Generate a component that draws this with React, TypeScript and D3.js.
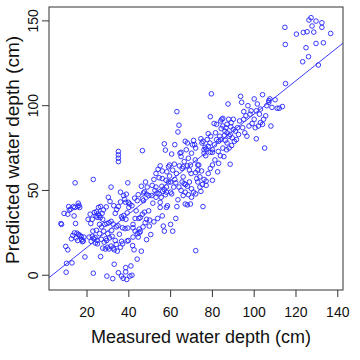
import React, { useEffect, useRef } from "react";
import * as d3 from "d3";

// [measured, predicted] pairs, grouped by measured depth (cm)
const depth5to20: [number, number][] = [
  [7.5, 30.5], [7.8, 30], [9, 36.5], [10.8, 36], [11.2, 40.5], [12.2, 39], [14.2, 40], [15.5, 40.5],
  [15.8, 42.5], [16.2, 41.2], [16.5, 40], [14.3, 54.5], [13.8, 35], [14.5, 30.5], [13.2, 23.5], [14, 25],
  [15.2, 24.8], [14.8, 22], [15.5, 20.5], [16.5, 23.5], [17.5, 21], [17.8, 19.8], [17.2, 22.8], [18.2, 20.2],
  [9.8, 17], [10.8, 15], [12.8, 7.3], [10.2, 7], [10, 1.8], [19, 10.8], [12.5, 21.5], [16, 24],
  [11.5, 38.5], [18.5, 22.5], [13.5, 40.5],
];
const depth20to30: [number, number][] = [
  [23, 56.5], [22.5, 33], [23.5, 37], [24.3, 35], [24.8, 34.2], [25.3, 36.2], [25.8, 35.2], [24.5, 37.5],
  [26.5, 40.5], [22.5, 23], [23.2, 21.5], [23.8, 22.3], [24.8, 20.5], [26, 24.5], [26.8, 21.2], [25, 18.5],
  [27.5, 16], [28.2, 19.5], [29, 21.5], [29.4, 20.5], [29.8, 16.5], [26.5, 11], [23, 1.2], [28.5, 30],
  [29.5, 30.5], [29.2, 40.3], [27.5, 33], [29.5, -0.5], [21, 22.5], [22, 20], [27, 28.5], [28, 26],
  [26.3, 34], [20.5, 33], [21.5, 36], [25.5, 40], [27.8, 38.5], [24, 19], [28.8, 15.5], [29.9, 24.5],
  [26, 30], [22.8, 26], [21.8, 30.5], [27.2, 36.5], [24.5, 26.5],
];
const depth30to40: [number, number][] = [
  [31.5, 52], [31, 43.5], [30.5, 31], [31.5, 31.8], [32.5, 30.2], [32, 23], [30.5, 15.5], [31.5, 17.2],
  [32.5, 16], [33, 15], [32.3, -2], [33, 6.5], [34, 18.2], [33.5, 20.5], [34, 28.5], [34.2, 38.8],
  [35, 40.5], [35, 73], [35, 71], [35, 69], [35, 67], [34.8, 29.2], [35.5, 24.2], [36.5, 20],
  [37, 18.5], [37, 28], [36.5, 34.5], [37.5, 35.2], [37.5, 47], [38, 44.8], [38.5, 43], [36, 43.2],
  [36, 49], [38.2, 27.5], [37, 33.5], [37.3, -1.8], [38.5, 4.5], [38.5, 2], [36.5, -0.5], [39, -2.5],
  [35, 1.5], [39.5, 54.5], [39.8, 43], [40, 40], [39.5, 27.8], [39.8, 20.5], [39.2, 20.2], [38.6, 33],
  [39.2, 36.8], [33.5, 36.5], [31.8, 26.5], [30.8, 22], [32.8, 41], [36, 16.5], [30.2, 46], [34.5, 14.2],
  [38.8, 47.8],
];
const depth40to50: [number, number][] = [
  [40.5, -0.5], [41, 5.5], [41.5, 0], [40.5, 42], [41.5, 41], [42, 28], [42, 22.5], [42.5, 15],
  [42, 30], [43, 33.5], [43.5, 38], [44, 44], [44.5, 47.5], [43, 26], [44, 24.5], [44.5, 22.5],
  [45, 27.2], [45, 25], [45.5, 25.8], [44, 9.5], [46, 14.2], [46.5, 73.5], [46, 52.5], [46.5, 45],
  [47, 44], [47, 48.5], [47.5, 49.2], [48, 55], [48.5, 47.8], [47.5, 37.2], [48.5, 33], [46.5, 36],
  [45.5, 34], [48.5, 21], [49.5, 38], [50, 32.5], [50.5, 24], [42.8, 45.5], [46.8, 28.5], [41.8, 17.5],
  [49.5, 47], [47.8, 31], [48.8, 52], [44.8, 33.5], [49.8, 29],
];
const depth50to60: [number, number][] = [
  [51, 47], [51.5, 42.5], [52, 56.5], [52, 31.5], [53, 46], [53, 52], [53.5, 48.5], [53, 60],
  [54, 62.5], [54.5, 57.5], [54.5, 48], [55, 43], [55, 40], [55.5, 46], [55, 64.5], [56, 57],
  [56, 61.5], [56, 35], [56.5, 29], [57, 26], [57, 77.5], [57.5, 73.8], [57.5, 47.5], [57, 50.5],
  [58, 49], [58, 40], [58.5, 41], [58, 52], [59, 55], [59, 64], [59.5, 65], [60, 49],
  [60.5, 48], [60, 55], [60.5, 71.5], [60, 30], [52.5, 50], [55.8, 52.5], [57.8, 56], [53.8, 33.5],
  [56.2, 49.5], [58.2, 61], [51.2, 53], [59.5, 58.5],
];
const depth60to70: [number, number][] = [
  [61, 26], [61, 62], [61.5, 52], [62, 56.5], [62.5, 54.5], [62, 77], [62.5, 33.5], [63, 40.5],
  [63, 96.5], [63.5, 84.5], [63.5, 44.5], [64, 88.5], [64.5, 72], [65, 72.5], [65, 70], [65.5, 63],
  [66, 58], [66.5, 54], [64, 52], [65, 50], [66, 47], [66, 64], [67, 79], [67.5, 74],
  [68, 78], [68, 64.5], [68, 52.5], [67, 49], [68.5, 47.5], [69, 62], [69.5, 65], [69, 55],
  [70, 46], [70, 72], [70.5, 77], [70, 51], [68, 41.5], [69.5, 42], [67, 42], [62.8, 60],
  [65.5, 55], [66.5, 67], [68.5, 69], [61.8, 65.5], [64.2, 64.5], [67.2, 53.5], [69.8, 60],
];
const depth70to80: [number, number][] = [
  [71, 79.5], [71.5, 77], [72, 75], [72, 60.5], [72.5, 57], [72, 48], [71, 49], [73, 65],
  [73.5, 65], [73, 62], [73, 55], [74, 58], [74, 52], [74.5, 49.5], [72, 14.5], [74.5, 80.5],
  [75, 78], [75.5, 79], [76, 74], [76, 72], [76.5, 75.5], [77, 74.5], [78, 76], [77.5, 80],
  [78, 83.5], [75.5, 40.5], [76, 56.5], [77, 55.5], [77, 53], [78, 60], [79, 72.5], [79, 93.5],
  [79.5, 107], [80, 74], [80, 72.5], [79, 63], [80, 56], [80, 65], [71.8, 68], [74.8, 61.5],
  [76.8, 70.5], [78.8, 78], [75.2, 53.5], [79.2, 82],
];
const depth80to90: [number, number][] = [
  [81, 77], [82, 80], [82, 89], [82.5, 61], [83, 66], [83, 79], [83.5, 82], [84, 91],
  [84.5, 92], [85, 92.5], [85, 88], [84, 80], [85, 75], [85.5, 70], [86, 85], [86.5, 87],
  [87, 84], [87, 89], [87.5, 101], [88, 82], [88.5, 83], [88.5, 65.5], [89, 90], [88, 75],
  [87, 78], [89.5, 81], [90, 86], [90, 92], [81.5, 84], [82.8, 73], [84.2, 86.5], [86.2, 79.5],
  [87.8, 92], [89.2, 76.5], [83.8, 70.5], [86.8, 74], [81.2, 68], [85.8, 82.5], [88.8, 87.5], [80.8, 89.5],
];
const depth90to115: [number, number][] = [
  [90.5, 79], [91, 85], [91.5, 80], [92, 87], [93, 91], [93.5, 105.5], [94, 102], [94.5, 87],
  [95, 92], [95.5, 84], [96, 94], [96.5, 82], [97, 100], [98, 95], [98.5, 97], [100, 104],
  [100.5, 87], [100, 92], [101, 80.5], [101, 97], [101.5, 101], [102, 88], [103, 98], [103, 90],
  [104, 106.5], [104, 89], [104.5, 92], [105, 75], [105.5, 94], [106, 100], [107, 102], [107, 103],
  [107.5, 104], [108, 88], [108.5, 99], [110, 103.5], [111, 98.5], [112, 98.5], [113.5, 99.5], [115, 113],
  [92.5, 83], [95, 96.5], [99, 89.5], [102.5, 95], [97.5, 88],
];
const depthOver115: [number, number][] = [
  [114.7, 146.2], [114.9, 136.1], [120.2, 142.2], [123.5, 143.2], [125.3, 143.6], [123.2, 125.9],
  [124.8, 134.2], [126, 128.9], [126.2, 150.5], [127.2, 151.9], [127.7, 147], [128.5, 143.4],
  [129.6, 149.9], [129.6, 136.7], [130.7, 124], [132.4, 148.9], [132.4, 146.2], [133.1, 137.1],
  [136.6, 142.6],
];

// fitted line: predicted = intercept + slope * measured
const fitCoeffs = [-3.2, 0.983];

const xTicks = [20, 40, 60, 80, 100, 120, 140];
const yTicks = [0, 50, 100, 150];

const App: React.FC = () => {
  const svgRef = useRef<SVGSVGElement>(null);

  useEffect(() => {
    if (!svgRef.current) return;
    const svg = d3.select(svgRef.current);
    const font = "'Liberation Sans', Arial, sans-serif";
    const plot = { left: 49, right: 343, top: 7, bottom: 290 };

    const x = d3.scaleLinear().domain([1.8, 142.5]).range([plot.left, plot.right]);
    const y = d3.scaleLinear().domain([-8.7, 158.2]).range([plot.bottom, plot.top]);

    const points = [
      ...depth5to20, ...depth20to30, ...depth30to40, ...depth40to50, ...depth50to60,
      ...depth60to70, ...depth70to80, ...depth80to90, ...depth90to115, ...depthOver115,
    ];

    svg.append("rect")
      .attr("width", 360).attr("height", 360).attr("fill", "#fff");

    // Points
    svg.append("g")
      .selectAll("circle")
      .data(points)
      .enter()
      .append("circle")
      .attr("cx", (d) => x(d[0]))
      .attr("cy", (d) => y(d[1]))
      .attr("r", 2.3)
      .attr("fill", "none")
      .attr("stroke", "#2424ff")
      .attr("stroke-width", 0.9);

    // Fit line
    const [a, b] = fitCoeffs;
    const xd = x.domain();
    svg.append("line")
      .attr("x1", x(xd[0])).attr("y1", y(a + b * xd[0]))
      .attr("x2", x(xd[1])).attr("y2", y(a + b * xd[1]))
      .attr("stroke", "#3c3cff")
      .attr("stroke-width", 1);

    // Box
    svg.append("rect")
      .attr("x", plot.left).attr("y", plot.top)
      .attr("width", plot.right - plot.left).attr("height", plot.bottom - plot.top)
      .attr("fill", "none").attr("stroke", "#333").attr("stroke-width", 1);

    // x axis
    const xa = svg.append("g").attr("transform", `translate(0,${plot.bottom})`);
    xa.selectAll("line").data(xTicks).enter().append("line")
      .attr("x1", (d) => x(d)).attr("x2", (d) => x(d))
      .attr("y1", 0).attr("y2", 7).attr("stroke", "#333");
    xa.selectAll("text").data(xTicks).enter().append("text")
      .attr("x", (d) => x(d)).attr("y", 27)
      .attr("text-anchor", "middle")
      .style("font-family", font).style("font-size", "14px").attr("fill", "#111")
      .text((d) => d);

    // y axis
    const ya = svg.append("g").attr("transform", `translate(${plot.left},0)`);
    ya.selectAll("line").data(yTicks).enter().append("line")
      .attr("x1", 0).attr("x2", -7)
      .attr("y1", (d) => y(d)).attr("y2", (d) => y(d)).attr("stroke", "#333");
    ya.selectAll("text").data(yTicks).enter().append("text")
      .attr("transform", (d) => `translate(-11,${y(d)}) rotate(-90)`)
      .attr("text-anchor", "middle")
      .style("font-family", font).style("font-size", "14px").attr("fill", "#111")
      .text((d) => d);

    // titles
    svg.append("text")
      .attr("x", 201).attr("y", 343)
      .attr("text-anchor", "middle")
      .style("font-family", font).style("font-size", "18px").attr("fill", "#111")
      .text("Measured water depth (cm)");
    svg.append("text")
      .attr("transform", `translate(18.5,150) rotate(-90)`)
      .attr("text-anchor", "middle")
      .style("font-family", font).style("font-size", "19px").attr("fill", "#111")
      .text("Predicted water depth (cm)");

    return () => {
      svg.selectAll("*").remove();
    };
  }, []);

  return (
    <svg
      ref={svgRef}
      width={360}
      height={360}
      style={{ position: "absolute", left: 0, top: 0 }}
    />
  );
};

export default App;
